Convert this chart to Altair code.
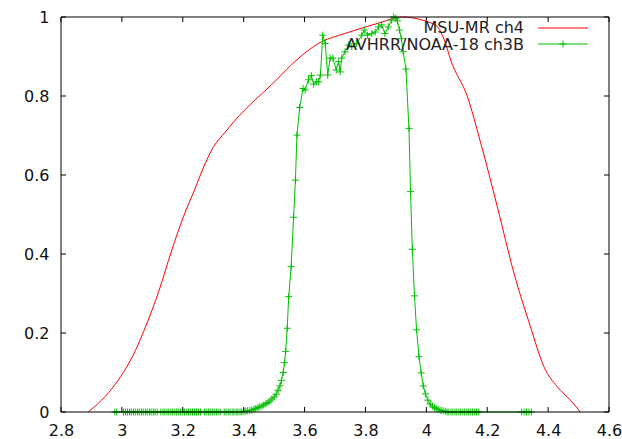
import altair as alt
import pandas as pd

# MSU-MR ch4 spectral response (red)
red_x = [2.889, 2.920, 2.968, 3.044, 3.080, 3.121, 3.164, 3.202, 3.240, 3.273,
         3.300, 3.339, 3.370, 3.404, 3.440, 3.491, 3.513, 3.568, 3.650, 3.732,
         3.841, 3.922, 3.988, 4.015, 4.037, 4.060, 4.080, 4.135, 4.179, 4.233,
         4.288, 4.342, 4.386, 4.430, 4.473, 4.506]
red_y = [0.000, 0.020, 0.060, 0.155, 0.220, 0.305, 0.410, 0.494, 0.565, 0.628,
         0.670, 0.708, 0.737, 0.765, 0.792, 0.828, 0.845, 0.887, 0.935, 0.958,
         0.984, 1.000, 0.992, 0.985, 0.975, 0.940, 0.891, 0.798, 0.680, 0.520,
         0.351, 0.216, 0.115, 0.064, 0.030, 0.000]

# AVHRR/NOAA-18 ch3B spectral response (green)
green_x = [2.977, 2.983, 3.005, 3.012, 3.018, 3.025, 3.031, 3.038, 3.044, 3.051,
           3.057, 3.064, 3.070, 3.077, 3.083, 3.090, 3.096, 3.103, 3.109, 3.116,
           3.128, 3.135, 3.141, 3.148, 3.154, 3.161, 3.167, 3.174, 3.180, 3.187,
           3.193, 3.200, 3.206, 3.213, 3.219, 3.226, 3.232, 3.239, 3.245, 3.252,
           3.258, 3.271, 3.277, 3.284, 3.290, 3.297, 3.303, 3.310, 3.316, 3.323,
           3.336, 3.342, 3.349, 3.355, 3.362, 3.368, 3.375, 3.381, 3.388, 3.394,
           3.401, 3.407, 3.413, 3.420, 3.427, 3.434, 3.440, 3.447, 3.453, 3.460,
           3.466, 3.473, 3.480, 3.486, 3.493, 3.500, 3.507, 3.513, 3.519, 3.524,
           3.530, 3.534, 3.538, 3.543, 3.548, 3.556, 3.564, 3.570, 3.575, 3.584,
           3.595, 3.602, 3.613, 3.622, 3.630, 3.639, 3.646, 3.652, 3.660, 3.668,
           3.676, 3.684, 3.693, 3.704, 3.712, 3.717, 3.722, 3.733, 3.744, 3.755,
           3.771, 3.788, 3.796, 3.807, 3.821, 3.832, 3.843, 3.853, 3.864, 3.875,
           3.886, 3.893, 3.900, 3.905, 3.912, 3.918, 3.924, 3.933, 3.943, 3.948,
           3.954, 3.961, 3.968, 3.976, 3.983, 3.990, 3.997, 4.005, 4.013, 4.020,
           4.027, 4.034, 4.041, 4.048, 4.055, 4.062, 4.068, 4.074, 4.081, 4.087,
           4.094, 4.100, 4.107, 4.113, 4.120, 4.126, 4.133, 4.139, 4.146, 4.152,
           4.159, 4.165, 4.172, 4.313, 4.321, 4.329, 4.337, 4.345]
green_y = [0.000, 0.000, 0.000, 0.000, 0.000, 0.000, 0.000, 0.000, 0.000, 0.000,
           0.000, 0.000, 0.000, 0.000, 0.000, 0.000, 0.000, 0.000, 0.000, 0.000,
           0.000, 0.000, 0.000, 0.000, 0.000, 0.000, 0.000, 0.000, 0.000, 0.000,
           0.000, 0.000, 0.000, 0.000, 0.000, 0.000, 0.000, 0.000, 0.000, 0.000,
           0.000, 0.000, 0.000, 0.000, 0.000, 0.000, 0.000, 0.000, 0.000, 0.000,
           0.000, 0.000, 0.000, 0.000, 0.000, 0.000, 0.000, 0.000, 0.000, 0.000,
           0.001, 0.002, 0.003, 0.004, 0.005, 0.007, 0.009, 0.011, 0.013, 0.015,
           0.018, 0.021, 0.024, 0.028, 0.033, 0.038, 0.045, 0.055, 0.066, 0.080,
           0.100, 0.125, 0.153, 0.212, 0.292, 0.368, 0.493, 0.587, 0.701, 0.771,
           0.819, 0.815, 0.841, 0.852, 0.830, 0.836, 0.836, 0.853, 0.954, 0.933,
           0.853, 0.896, 0.896, 0.866, 0.887, 0.861, 0.896, 0.912, 0.929, 0.925,
           0.933, 0.954, 0.967, 0.954, 0.958, 0.962, 0.975, 0.980, 0.958, 0.975,
           0.992, 1.000, 0.997, 0.990, 0.967, 0.945, 0.912, 0.868, 0.718, 0.558,
           0.412, 0.294, 0.208, 0.140, 0.099, 0.066, 0.046, 0.030, 0.020, 0.015,
           0.011, 0.008, 0.006, 0.004, 0.003, 0.002, 0.000, 0.000, 0.000, 0.000,
           0.000, 0.000, 0.000, 0.000, 0.000, 0.000, 0.000, 0.000, 0.000, 0.000,
           0.000, 0.000, 0.000, 0.000, 0.000, 0.000, 0.000, 0.000]

x_ticks = [2.8, 3.0, 3.2, 3.4, 3.6, 3.8, 4.0, 4.2, 4.4, 4.6]
y_ticks = [0.0, 0.2, 0.4, 0.6, 0.8, 1.0]

series_names = ["MSU-MR ch4", "AVHRR/NOAA-18 ch3B"]

W, H = 548, 395
RED = "#ff0000"
GREEN = "#00c000"
FONT = "DejaVu Sans"
PLUS = "M-1,0L1,0M0,-1L0,1"

xscale = alt.Scale(domain=[2.8, 4.6], nice=False, zero=False)
yscale = alt.Scale(domain=[0, 1], nice=False, zero=False)

red_df = pd.DataFrame({"x": red_x, "y": red_y})
green_df = pd.DataFrame({"x": green_x, "y": green_y})
xt_df = pd.DataFrame({"x": x_ticks})
yt_df = pd.DataFrame({"y": y_ticks})
one = pd.DataFrame({"a": [0]})

xaxis = alt.Axis(values=x_ticks, format="~g", title=None, grid=False, domain=False,
                 ticks=False, tickSize=0, labelFont=FONT, labelFontSize=16,
                 labelColor="#111111", labelPadding=10, labelFlush=False)
yaxis = alt.Axis(values=y_ticks, format="~g", title=None, grid=False, domain=False,
                 ticks=False, tickSize=0, labelFont=FONT, labelFontSize=16,
                 labelColor="#111111", labelPadding=12)

X = alt.X("x:Q", scale=xscale, axis=xaxis)
Y = alt.Y("y:Q", scale=yscale, axis=yaxis)

red_line = alt.Chart(red_df).mark_line(color=RED, strokeWidth=1, interpolate="monotone").encode(
    x=X, y=Y)
green_line = alt.Chart(green_df).mark_line(color=GREEN, strokeWidth=1).encode(x=X, y=Y)
green_pts = alt.Chart(green_df).mark_point(
    shape=PLUS, size=49, filled=False, color=GREEN, strokeWidth=1, opacity=1
).encode(x=X, y=Y)

tick_len = 5
xt_bottom = alt.Chart(xt_df).mark_rule(color="#000000", strokeWidth=1).encode(
    x=X, y=alt.value(H), y2=alt.value(H - tick_len))
xt_top = alt.Chart(xt_df).mark_rule(color="#000000", strokeWidth=1).encode(
    x=X, y=alt.value(0), y2=alt.value(tick_len))
yt_left = alt.Chart(yt_df).mark_rule(color="#000000", strokeWidth=1).encode(
    y=Y, x=alt.value(0), x2=alt.value(tick_len))
yt_right = alt.Chart(yt_df).mark_rule(color="#000000", strokeWidth=1).encode(
    y=Y, x=alt.value(W), x2=alt.value(W - tick_len))

border = alt.Chart(one).mark_rect(fillOpacity=0, stroke="#000000", strokeWidth=1).encode(
    x=alt.value(0), x2=alt.value(W), y=alt.value(0), y2=alt.value(H))

# legend (gnuplot style: label, then sample)
leg_text1 = alt.Chart(one).mark_text(align="right", baseline="middle", font=FONT,
                                     fontSize=16, color="#222222").encode(
    x=alt.value(463), y=alt.value(11), text=alt.value(series_names[0]))
leg_text2 = alt.Chart(one).mark_text(align="right", baseline="middle", font=FONT,
                                     fontSize=16, color="#222222").encode(
    x=alt.value(463), y=alt.value(28), text=alt.value(series_names[1]))
leg_line1 = alt.Chart(one).mark_rule(color=RED, strokeWidth=1).encode(
    x=alt.value(477), x2=alt.value(527), y=alt.value(11))
leg_line2 = alt.Chart(one).mark_rule(color=GREEN, strokeWidth=1).encode(
    x=alt.value(477), x2=alt.value(527), y=alt.value(27))
leg_pt2 = alt.Chart(one).mark_point(shape=PLUS, size=49, filled=False, color=GREEN,
                                    strokeWidth=1, opacity=1).encode(
    x=alt.value(502), y=alt.value(27))

chart = alt.layer(
    red_line, green_line, green_pts,
    xt_bottom, xt_top, yt_left, yt_right, border,
    leg_text1, leg_text2, leg_line1, leg_line2, leg_pt2,
).properties(
    width=W, height=H,
    padding={"left": 61, "top": 17, "right": 13, "bottom": 27},
    autosize=alt.AutoSizeParams(type="none"),
    background="white",
).configure_view(stroke=None)

chart.save("out.html", embed_options={"renderer": "svg", "actions": False})
